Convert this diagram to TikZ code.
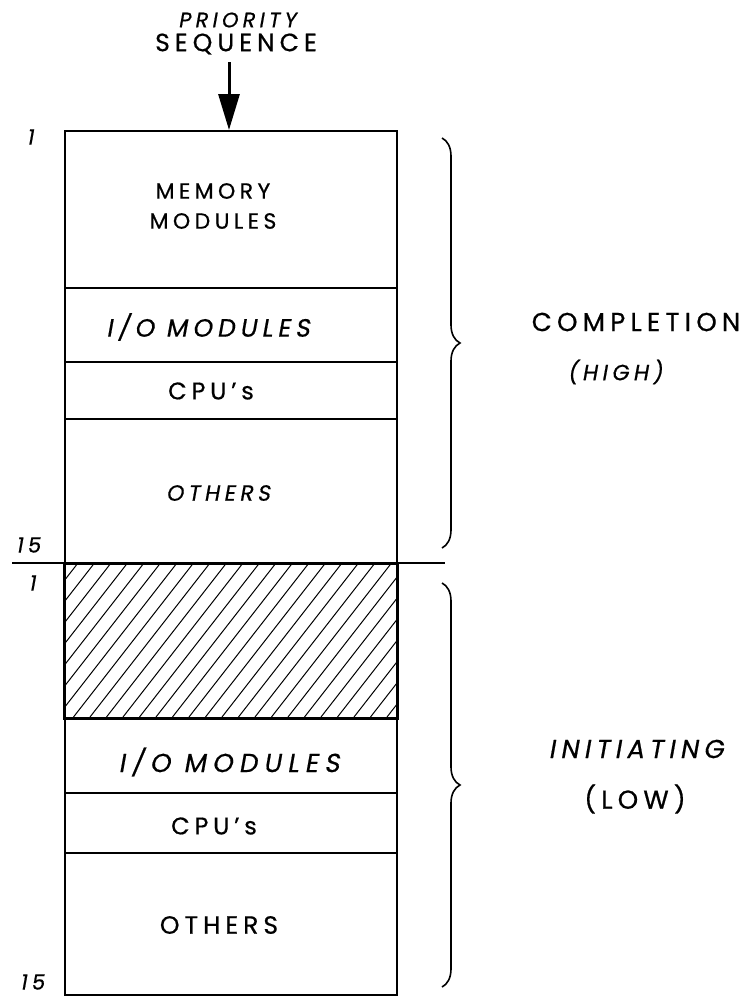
\documentclass[tikz,border=0pt]{standalone}
\usepackage{fontspec}
\setmainfont{Poppins}
% hand-lettered look: spaced capitals, upright and slanted
\newfontfamily\hand[LetterSpace=20,FakeBold=0.6]{Poppins}
\newfontfamily\handsl[LetterSpace=20,FakeBold=0.6,FakeSlant=0.18]{Poppins}
\usetikzlibrary{arrows.meta,decorations.pathreplacing}

\tikzset{
  seg/.style={draw, line width=2pt, minimum width=332pt, inner sep=0pt,
              anchor=north, align=center},
  lbl/.style={inner sep=0pt, align=center, font=\hand\fontsize{23}{30}\selectfont},
  lblsl/.style={inner sep=0pt, align=center, font=\handsl\fontsize{23}{30}\selectfont},
  num/.style={inner sep=0pt, font=\handsl\fontsize{21}{24}\selectfont},
  side/.style={inner sep=0pt, align=center, font=\hand\fontsize{26}{30}\selectfont},
  sidesl/.style={inner sep=0pt, align=center, font=\handsl\fontsize{26}{30}\selectfont},
  bracket/.style={decorate, decoration={brace, amplitude=18pt, aspect=0.5},
              line width=1.6pt},
  hatchline/.style={line width=1pt},
  flow/.style={line width=3pt, -{Triangle[length=36pt, width=21pt]}}
}

\begin{document}
\begin{tikzpicture}[x=1pt, y=-1pt]
\useasboundingbox[fill=white] (0,0) rectangle (748,996);

% heading and arrow
\node[lblsl, font=\handsl\fontsize{21}{24}\selectfont] (prio) at (237,20) {PRIORITY};
\node[lbl, font=\hand\fontsize{25}{28}\selectfont] (seq) at (236,44) {SEQUENCE};

% completion (high) block
\node[seg, minimum height=157pt] (mem)  at (231,130) {};
\node[seg, minimum height=74pt]  (io1)  at (231,287) {};
\node[seg, minimum height=57pt]  (cpu1) at (231,361) {};
\node[seg, minimum height=145pt] (oth1) at (231,418) {};

% initiating (low) block
\node[seg, minimum height=154pt] (hatch) at (231,563) {};
\node[seg, minimum height=75pt]  (io2)  at (231,717) {};
\node[seg, minimum height=60pt]  (cpu2) at (231,792) {};
\node[seg, minimum height=142pt] (oth2) at (231,852) {};

% hatching of the unused initiating levels
\begin{scope}
  \clip (hatch.north west) rectangle (hatch.south east);
  \foreach \i in {0,...,28} {
    \pgfmathsetmacro{\hx}{-42+16.5*\i}
    \draw[hatchline] (\hx,717) -- ++(120,-154);
  }
\end{scope}
\draw[line width=2pt] (hatch.north west) rectangle (hatch.south east);

% divider between the two groups
\coordinate (divL) at (12,563);
\coordinate (divR) at (445,563);
\draw[line width=2pt] (divL) -- (divR);

% arrow into the top of the stack
\coordinate (arrtop) at (229,62);
\draw[flow] (arrtop) -- (arrtop |- mem.north);

% segment labels
\node[lbl, font=\hand\fontsize{22}{30}\selectfont] (tmem) at (213,206) {MEMORY\\MODULES};
\node[lblsl, font=\handsl\fontsize{25}{30}\selectfont] (tio1) at (208,327) {I/O MODULES};
\node[lbl, font=\hand\fontsize{24}{30}\selectfont] (tcpu1) at (211,391) {CPU’s};
\node[lblsl, font=\handsl\fontsize{22}{30}\selectfont] (toth1) at (218,493) {OTHERS};
\node[lblsl, font=\handsl\addfontfeature{LetterSpace=24}\fontsize{26}{30}\selectfont] (tio2) at (229,762) {I/O MODULES};
\node[lbl, font=\hand\fontsize{24}{30}\selectfont] (tcpu2) at (214,826) {CPU’s};
\node[lbl, font=\hand\fontsize{25}{30}\selectfont] (toth2) at (219,925) {OTHERS};

% level numbers
\node[num] (n1a)  at (30,137) {1};
\node[num] (n15a) at (28,545) {15};
\node[num] (n1b)  at (32,583) {1};
\node[num] (n15b) at (32,982) {15};

% braces and group names
\coordinate (b1t) at (442,138);
\coordinate (b1b) at (442,548);
\draw[bracket] (b1t) -- (b1b);
\coordinate (b2t) at (442,583);
\coordinate (b2b) at (442,987);
\draw[bracket] (b2t) -- (b2b);

\node[side] (compl) at (636,322) {COMPLETION};
\node[sidesl, font=\handsl\fontsize{22}{30}\selectfont] (high) at (615,372) {(HIGH)};
\node[sidesl] (init) at (636,749) {INITIATING};
\node[side] (low) at (635,799) {(LOW)};
\end{tikzpicture}
\end{document}
